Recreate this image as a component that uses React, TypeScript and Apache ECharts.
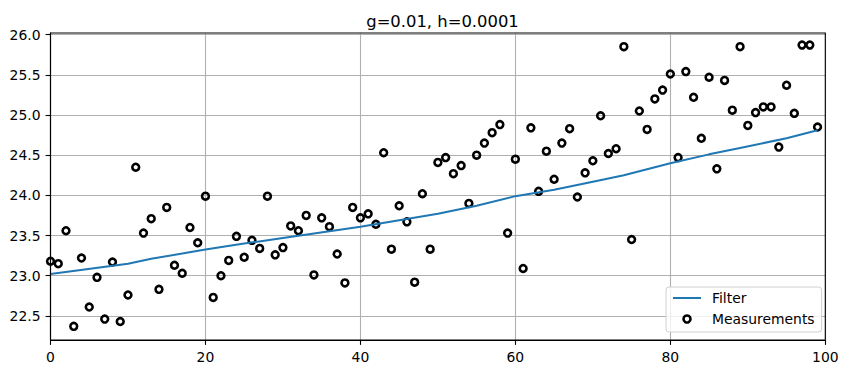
import React, { useEffect, useRef } from "react";
import * as echarts from "echarts";

const TITLE = "g=0.01, h=0.0001";

const measurements = [
  23.18, 23.15, 23.56, 22.37, 23.22, 22.61, 22.98, 22.46, 23.17, 22.43,
  22.76, 24.35, 23.53, 23.71, 22.83, 23.85, 23.13, 23.03, 23.6, 23.41,
  23.99, 22.73, 23.0, 23.19, 23.49, 23.23, 23.44, 23.34, 23.99, 23.26,
  23.35, 23.62, 23.56, 23.75, 23.01, 23.72, 23.61, 23.27, 22.91, 23.85,
  23.72, 23.77, 23.64, 24.53, 23.33, 23.87, 23.67, 22.92, 24.02, 23.33,
  24.41, 24.47, 24.27, 24.37, 23.9, 24.5, 24.65, 24.78, 24.88, 23.53,
  24.45, 23.09, 24.84, 24.05, 24.55, 24.2, 24.65, 24.83, 23.98, 24.28,
  24.43, 24.99, 24.52, 24.58, 25.85, 23.45, 25.05, 24.82, 25.2, 25.31,
  25.51, 24.47, 25.54, 25.22, 24.71, 25.47, 24.33, 25.43, 25.06, 25.85,
  24.87, 25.03, 25.1, 25.1, 24.6, 25.37, 25.02, 25.87, 25.87, 24.85,
];

const filterX = [0, 10, 13, 20, 25, 30, 40, 45, 50, 55, 60, 65, 70, 74, 80, 85, 89, 95, 99];
const filterY = [
  23.02, 23.15, 23.21, 23.325, 23.4, 23.47, 23.61, 23.69, 23.77, 23.87,
  23.99, 24.07, 24.17, 24.25, 24.4, 24.51, 24.59, 24.71, 24.81,
];

const xTicks = [0, 20, 40, 60, 80, 100];
const yTicks = [22.5, 23.0, 23.5, 24.0, 24.5, 25.0, 25.5, 26.0];

const FONT = "DejaVu Sans";

export default function App() {
  const ref = useRef<HTMLDivElement>(null);

  useEffect(() => {
    if (!ref.current) return;
    const chart = echarts.init(ref.current, undefined, { renderer: "svg" });
    const measData = measurements.map((v, i) => [i, v]);
    const filterData = filterX.map((x, i) => [x, filterY[i]]);

    chart.setOption({
      animation: false,
      backgroundColor: "#ffffff",
      textStyle: { fontFamily: FONT },
      title: {
        text: TITLE,
        left: 437.5,
        top: 8,
        textAlign: "center",
        textStyle: { fontFamily: FONT, fontSize: 16.4, fontWeight: "normal", color: "#000" },
      },
      grid: { left: 50.5, right: 22.7, top: 33, bottom: 34, containLabel: false, show: false },
      xAxis: {
        type: "value",
        min: 0,
        max: 100,
        interval: 20,
        axisLine: { show: true, onZero: false, lineStyle: { color: "#000", width: 1.1 } },
        axisTick: { show: true, length: 4.9, lineStyle: { color: "#000", width: 1.1 } },
        axisLabel: {
          margin: 9.5,
          color: "#000",
          fontFamily: FONT,
          fontSize: 13.9,
          customValues: xTicks,
        },
        splitLine: { show: true, lineStyle: { color: "#b0b0b0", width: 1.1 } },
      },
      yAxis: {
        type: "value",
        min: 22.2,
        max: 26.02,
        axisLine: { show: true, onZero: false, lineStyle: { color: "#000", width: 1.1 } },
        axisTick: { show: true, length: 4.9, lineStyle: { color: "#000", width: 1.1 }, customValues: yTicks },
        axisLabel: {
          margin: 10,
          color: "#000",
          fontFamily: FONT,
          fontSize: 13.9,
          customValues: yTicks,
          formatter: (v: number) => v.toFixed(1),
        },
        splitLine: { show: true, lineStyle: { color: "#b0b0b0", width: 1.1 } },
      },
      legend: {
        orient: "vertical",
        left: 666,
        top: 287,
        padding: [4, 7, 6, 6],
        itemGap: 7,
        itemWidth: 28,
        itemHeight: 7,
        backgroundColor: "rgba(255,255,255,0.8)",
        borderColor: "#d0d0d0",
        borderWidth: 1,
        borderRadius: 3,
        textStyle: { fontFamily: FONT, fontSize: 13.9, color: "#000", padding: [0, 0, 0, 6] },
        data: [
          { name: "Filter", itemStyle: { opacity: 0 }, lineStyle: { color: "#1f77b4", width: 2, opacity: 1 } },
          {
            name: "Measurements",
            icon: "circle",
            itemStyle: { color: "rgba(255,255,255,0)", borderColor: "#000", borderWidth: 2.6, opacity: 1 },
          },
        ],
      },
      series: [
        {
          name: "Measurements",
          type: "scatter",
          data: measData,
          symbol: "circle",
          symbolSize: 6.8,
          z: 2,
          itemStyle: { color: "rgba(255,255,255,0)", borderColor: "#000", borderWidth: 2.6, opacity: 1 },
        },
        {
          name: "Filter",
          type: "line",
          data: filterData,
          symbol: "none",
          showSymbol: false,
          z: 3,
          lineStyle: { color: "#1f77b4", width: 2 },
          itemStyle: { color: "#1f77b4" },
        },
      ],
      graphic: [
        {
          type: "rect",
          shape: { x: 50.5, y: 33, width: 774.8, height: 307 },
          style: { fill: "none", stroke: "#000", lineWidth: 1.1 },
          silent: true,
          z: 10,
        },
      ],
    });

    return () => chart.dispose();
  }, []);

  return <div ref={ref} style={{ width: 848, height: 374, position: "absolute", left: 0, top: 0 }} />;
}
